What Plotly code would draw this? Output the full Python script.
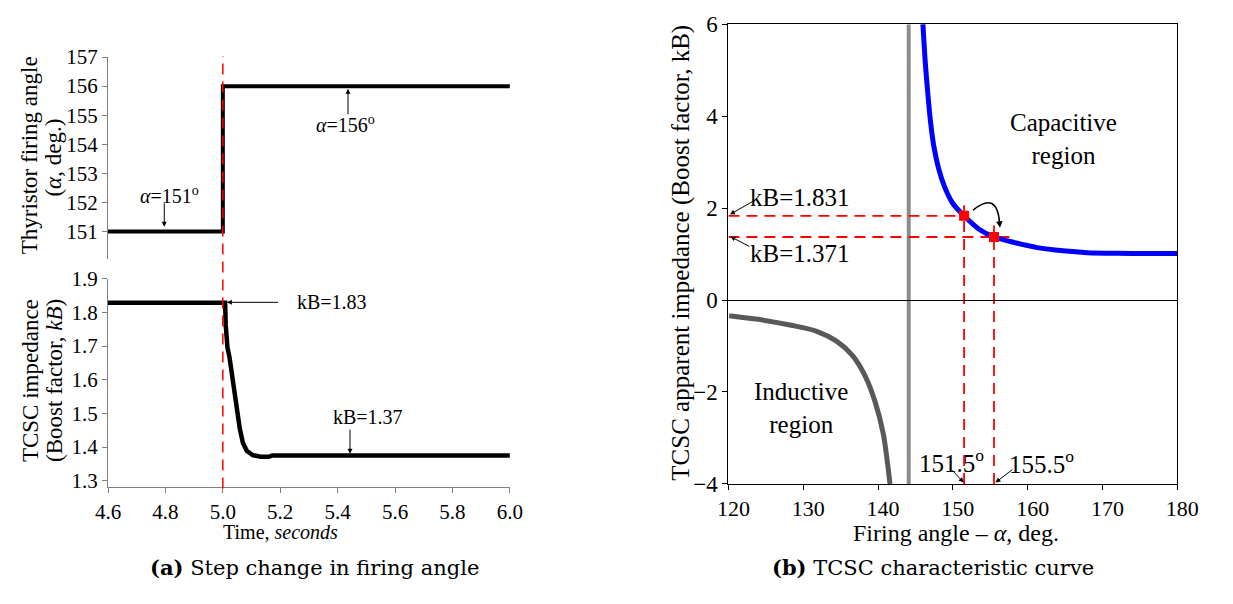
import plotly.graph_objects as go

# ---------------- data ----------------
# Panel (a) top: thyristor firing angle step
t_alpha = [4.6, 5.0, 5.0, 6.0]
alpha_deg = [151, 151, 156, 156]

# Panel (a) bottom: TCSC boost factor response
t_kb = [4.6, 5.005, 5.008, 5.010, 5.016, 5.023, 5.031, 5.038, 5.047, 5.059,
        5.070, 5.084, 5.104, 5.132, 5.160, 5.172, 6.0]
kb_t = [1.829, 1.829, 1.829, 1.763, 1.696, 1.668, 1.620, 1.592, 1.516, 1.455,
        1.412, 1.388, 1.376, 1.371, 1.371, 1.375, 1.375]

# Panel (b): characteristic curve
alpha_cap = [146.0, 146.3, 146.65, 147.0, 147.45, 148.1, 148.95, 150.0, 151.5,
             153.5, 155.5, 158.25, 161.3, 164.75, 168.0, 172.0, 176.0, 180.0]
kb_cap = [6.0, 5.2, 4.5, 3.9, 3.35, 2.86, 2.44, 2.1, 1.831,
          1.54, 1.371, 1.25, 1.14, 1.07, 1.03, 1.015, 1.01, 1.01]
alpha_ind = [120.1, 124.0, 128.4, 131.8, 134.4, 136.6, 138.3, 139.6, 140.7, 141.6]
kb_ind = [-0.34, -0.42, -0.55, -0.68, -0.89, -1.21, -1.66, -2.21, -2.91, -4.0]
resonance_alpha = 144.1
op_alpha = [151.5, 155.5]
op_kb = [1.831, 1.371]

left_ticks_alpha = [151, 152, 153, 154, 155, 156, 157]

# ---------------- figure ----------------
W, H = 1233, 604
SERIF = "Liberation Serif"
RED = "#ff0000"
DASH = "11px,7px"

def px(x):
    return x / W

def py(y):
    return 1 - y / H

def sfont(size):
    return dict(family=SERIF, size=size, color="black")

fig = go.Figure()

fig.add_trace(go.Scatter(x=t_alpha, y=alpha_deg, mode="lines", xaxis="x", yaxis="y",
                         line=dict(color="black", width=4), showlegend=False))
fig.add_trace(go.Scatter(x=t_kb, y=kb_t, mode="lines", xaxis="x2", yaxis="y2",
                         line=dict(color="black", width=4.5), showlegend=False))
fig.add_trace(go.Scatter(x=alpha_ind, y=kb_ind, mode="lines", xaxis="x3", yaxis="y3",
                         line=dict(color="#595959", width=5, shape="spline", smoothing=0.8),
                         showlegend=False))
fig.add_trace(go.Scatter(x=alpha_cap, y=kb_cap, mode="lines", xaxis="x3", yaxis="y3",
                         line=dict(color="#0000ff", width=5, shape="spline", smoothing=0.8),
                         showlegend=False))
fig.add_trace(go.Scatter(x=op_alpha, y=op_kb, mode="markers", xaxis="x3", yaxis="y3",
                         marker=dict(symbol="square", size=10, color=RED),
                         showlegend=False))

left_dom = [px(97.7), px(511)]
gray_axis = "#808080"

fig.update_layout(
    width=W, height=H, margin=dict(l=0, r=0, t=0, b=0),
    paper_bgcolor="white", plot_bgcolor="white",
    font=sfont(20),
    xaxis=dict(domain=left_dom, range=[4.6, 6.0], visible=False, anchor="y"),
    yaxis=dict(domain=[py(257.3), py(47)], range=[151 - 28.3 / 30.33, 157],
               tickvals=left_ticks_alpha, ticks="outside", ticklen=5, tickcolor=gray_axis,
               showline=True, linecolor=gray_axis, linewidth=1, showgrid=False,
               zeroline=False, tickfont=sfont(21), anchor="x"),
    xaxis2=dict(domain=left_dom, range=[4.6, 6.0], dtick=0.2, tick0=4.6, tickformat=".1f",
                ticks="outside", ticklen=5, tickcolor=gray_axis, showline=True,
                linecolor=gray_axis, showgrid=False, zeroline=False,
                tickfont=sfont(21), anchor="y2"),
    yaxis2=dict(domain=[py(496), py(278.3)], range=[1.9 - 217.7 / 351.1, 1.9],
                dtick=0.1, tick0=1.3, tickformat=".1f", ticks="outside", ticklen=5,
                tickcolor=gray_axis, showline=True, linecolor=gray_axis, showgrid=False,
                zeroline=False, tickfont=sfont(21), anchor="x2"),
    xaxis3=dict(domain=[px(735.7), px(1197.3)], range=[120, 180], dtick=10,
                ticks="outside", ticklen=5, tickcolor="black", showline=True, mirror=True,
                linecolor="black", showgrid=False, zeroline=False,
                tickfont=sfont(22), ticklabelshift=5, anchor="y3"),
    yaxis3=dict(domain=[py(492.3), py(12.7)], range=[-4, 6], dtick=2,
                ticks="outside", ticklen=5, tickcolor="black", showline=True, mirror=True,
                linecolor="black", showgrid=False, zeroline=True, zerolinecolor="black",
                zerolinewidth=1, tickfont=sfont(23), anchor="x3"),
)

shapes = []
# dashed step marker in panel (a)
shapes.append(dict(type="line", xref="x2", yref="paper", x0=5.0, x1=5.0,
                   y0=py(497), y1=py(46), line=dict(color=RED, width=1.5, dash=DASH),
                   layer="above"))
# resonance line
shapes.append(dict(type="line", xref="x3", yref="y3", x0=resonance_alpha, x1=resonance_alpha,
                   y0=-4, y1=6, line=dict(color="#8c8c8c", width=4), layer="below"))
# operating point guides
shapes.append(dict(type="line", xref="x3", yref="y3", x0=120, x1=op_alpha[0],
                   y0=op_kb[0], y1=op_kb[0], line=dict(color=RED, width=1.8, dash=DASH),
                   layer="below"))
shapes.append(dict(type="line", xref="x3", yref="y3", x0=120, x1=157.6,
                   y0=op_kb[1], y1=op_kb[1], line=dict(color=RED, width=1.8, dash=DASH),
                   layer="below"))
shapes.append(dict(type="line", xref="x3", yref="y3", x0=op_alpha[0], x1=op_alpha[0],
                   y0=-4, y1=2.06, line=dict(color=RED, width=1.8, dash=DASH), layer="below"))
shapes.append(dict(type="line", xref="x3", yref="y3", x0=op_alpha[1], x1=op_alpha[1],
                   y0=-4, y1=1.62, line=dict(color=RED, width=1.8, dash=DASH), layer="below"))
# curved arrow between operating points
shapes.append(dict(type="path", xref="x3", yref="y3",
                   path="M 152.7,1.956 Q 155.9,2.38 156.25,1.68",
                   line=dict(color="black", width=1.5)))
fig.update_layout(shapes=shapes)

ann = []

def text(x, y, s, xref, yref, size=20, angle=0):
    ann.append(dict(x=x, y=y, xref=xref, yref=yref, text=s, showarrow=False,
                    xanchor="center", yanchor="middle", textangle=angle,
                    font=sfont(size)))

def arrow(x, y, ax, ay, xref, yref, size=1.0):
    ann.append(dict(x=x, y=y, xref=xref, yref=yref, text="", showarrow=True,
                    ax=ax, ay=ay, arrowhead=2, arrowsize=size, arrowwidth=1,
                    arrowcolor="black", standoff=0, startstandoff=0))

# panel (a) top
text(4.814, 152.25, "<i>α</i>=151<sup>o</sup>", "x", "y")
arrow(4.796, 151.16, 0, -25, "x", "y")
text(5.428, 154.69, "<i>α</i>=156<sup>o</sup>", "x", "y")
arrow(5.436, 155.91, 0, 27, "x", "y")
# panel (a) bottom
text(5.379, 1.83, "kB=1.83", "x2", "y2")
arrow(5.014, 1.83, 52.7, 0, "x2", "y2")
text(5.505, 1.489, "kB=1.37", "x2", "y2")
arrow(5.443, 1.38, 0, -25.7, "x2", "y2")
# panel (a) axis titles
text(px(17), py(150), "Thyristor firing angle", "paper", "paper", 23, -90)
text(px(42), py(152), "(<i>α</i>, deg.)", "paper", "paper", 23, -90)
text(px(17.5), py(385), "TCSC impedance", "paper", "paper", 23, -90)
text(px(42), py(384), "(Boost factor, <i>kB</i>)", "paper", "paper", 23, -90)
text(px(275), py(542), "Time, <i>seconds</i>", "paper", "paper", 20)

# panel (b)
text(129.62, 2.235, "kB=1.831", "x3", "y3", 25)
arrow(120.2, 1.86, 24.4, -14, "x3", "y3")
text(129.53, 1.005, "kB=1.371", "x3", "y3", 25)
arrow(120.26, 1.38, 20.6, 10.7, "x3", "y3")
text(149.8, -3.5, "151.5<sup>o</sup>", "x3", "y3", 25)
arrow(151.45, -3.97, -12.8, -13.7, "x3", "y3")
text(161.9, -3.53, "155.5<sup>o</sup>", "x3", "y3", 25)
arrow(155.7, -3.97, 18.3, -14, "x3", "y3")
arrow(156.3, 1.57, -1, -10, "x3", "y3", 1.3)
text(164.75, 3.5, "Capacitive<br>region", "x3", "y3", 25)
text(129.66, -2.35, "Inductive<br>region", "x3", "y3", 25)
text(px(687), py(251), "TCSC apparent impedance (Boost factor, kB)", "paper", "paper", 25, -90)
text(px(970), py(543), "Firing angle – <i>α</i>, deg.", "paper", "paper", 24)

# captions
ann.append(dict(x=px(310), y=py(580), xref="paper", yref="paper",
                text="<b>(a)</b> Step change in firing angle", showarrow=False,
                xanchor="center", yanchor="middle",
                font=dict(family="DejaVu Serif", size=21, color="black")))
ann.append(dict(x=px(946), y=py(580), xref="paper", yref="paper",
                text="<b>(b)</b> TCSC characteristic curve", showarrow=False,
                xanchor="center", yanchor="middle",
                font=dict(family="DejaVu Serif", size=21, color="black")))

fig.update_layout(annotations=ann)

fig.write_html("out.html")
